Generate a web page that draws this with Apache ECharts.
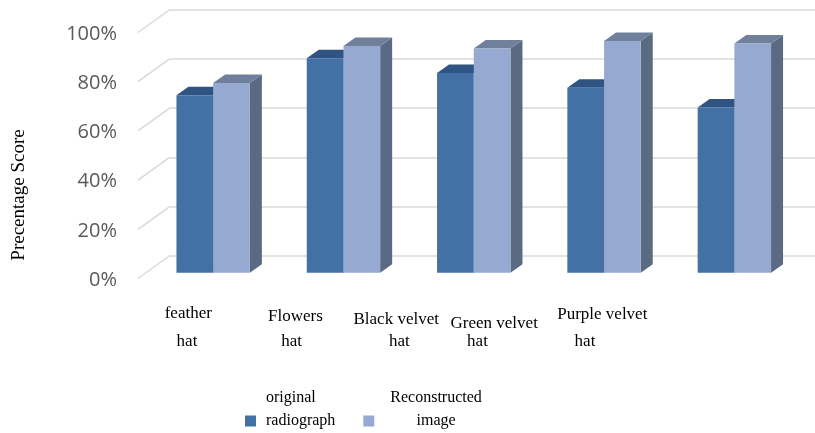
<!DOCTYPE html>
<html>
<head>
<meta charset="utf-8">
<script src="https://cdn.jsdelivr.net/npm/echarts@6/dist/echarts.min.js"></script>
<style>
  html, body { margin: 0; padding: 0; background: #ffffff; }
  #chart { width: 815px; height: 433px; }
</style>
</head>
<body>
<div id="chart"></div>
<script>
// ---- data ----
const categories = ['feather hat', 'Flowers hat', 'Black velvet hat', 'Green velvet hat', 'Purple velvet hat'];
const originalRadiograph = [0.72, 0.87, 0.81, 0.75, 0.67];
const reconstructedImage = [0.77, 0.92, 0.91, 0.94, 0.93];
const percentTicks = [0, 0.2, 0.4, 0.6, 0.8, 1];
const seriesNames = ['original radiograph', 'Reconstructed image'];
const yAxisTitle = 'Precentage Score';

// ---- look ----
const SERIF = '"Liberation Serif", "DejaVu Serif", serif';
const SANS = '"Open Sans", "Liberation Sans", sans-serif';
const GRID_LINE = '#d9d9d9';
const FACE = [
  { front: '#4471a5', top: '#2f5382', side: '#34577f' },
  { front: '#95a9d1', top: '#6f7f9c', side: '#5b6a83' }
];
// depth of the 3-D wall and of each bar (px)
const WALL_DX = 32, WALL_DY = -23;
const BAR_DX = 12, BAR_DY = -8.5;

// per-label nudges of the two text lines: [line dx, hat dx, line height, hat height]
const labelLayout = [
  [-0.4, -1.7, 10.6, 46.2],
  [3.4, -0.4, 17.4, 32.6],
  [0.7, 3.8, 24, 19.4],
  [-4.7, -21.4, 30.6, 6.2],
  [0, -17.3, 12.6, 42.2]
];

function hPad(dx) {
  return [0, Math.max(0, -2 * dx), 0, Math.max(0, 2 * dx)];
}

const labelRich = {};
labelLayout.forEach(function (l, i) {
  labelRich['a' + i] = { fontFamily: SERIF, fontSize: 17, color: '#000', lineHeight: l[2], padding: hPad(l[0]), align: 'center' };
  labelRich['b' + i] = { fontFamily: SERIF, fontSize: 17, color: '#000', lineHeight: l[3], padding: hPad(l[1]), align: 'center' };
});

function splitLastWord(s) {
  const k = s.lastIndexOf(' ');
  return [s.slice(0, k), s.slice(k + 1)];
}
function splitFirstWord(s) {
  const k = s.indexOf(' ');
  return [s.slice(0, k), s.slice(k + 1)];
}

// one 3-D bar: front face, top face and right side face
function makeBar(seriesIdx) {
  return function (params, api) {
    const cat = api.value(0);
    const val = api.value(1);
    const base = api.coord([cat, 0]);
    const topPt = api.coord([cat, val]);
    const band = api.size([1, 0])[0];
    const w = band * 0.2817;
    const x0 = seriesIdx === 0 ? base[0] - w : base[0];
    const x1 = x0 + w;
    const yb = base[1];
    const yt = topPt[1];
    const c = FACE[seriesIdx];
    return {
      type: 'group',
      children: [
        {
          type: 'polygon',
          shape: { points: [[x1, yt], [x1 + BAR_DX, yt + BAR_DY], [x1 + BAR_DX, yb + BAR_DY], [x1, yb]] },
          style: { fill: c.side }
        },
        {
          type: 'polygon',
          shape: { points: [[x0, yt], [x0 + BAR_DX, yt + BAR_DY], [x1 + BAR_DX, yt + BAR_DY], [x1, yt]] },
          style: { fill: c.top }
        },
        {
          type: 'rect',
          shape: { x: x0, y: yt, width: w, height: yb - yt },
          style: { fill: c.front }
        }
      ]
    };
  };
}

const chart = echarts.init(document.getElementById('chart'), null, { renderer: 'canvas' });

chart.setOption({
  backgroundColor: '#ffffff',
  animation: false,
  grid: [
    // front plane: value labels and category labels
    { left: 137, width: 517, top: 34, height: 246 },
    // back wall with the gridlines
    { left: 170, right: 0, top: 9.5, height: 246.5 },
    // bars, standing mid-depth
    { left: 148, width: 651.5, top: 26.2, height: 246.5 }
  ],
  xAxis: [
    {
      gridIndex: 0,
      type: 'category',
      data: categories,
      axisLine: { show: false },
      axisTick: { show: false },
      axisLabel: {
        interval: 0,
        margin: 28,
        formatter: function (value, idx) {
          const p = splitLastWord(value);
          return '{a' + idx + '|' + p[0] + '}\n{b' + idx + '|' + p[1] + '}';
        },
        rich: labelRich
      }
    },
    { gridIndex: 1, type: 'value', show: false },
    { gridIndex: 2, type: 'category', data: categories, show: false }
  ],
  yAxis: [
    {
      gridIndex: 0,
      type: 'value',
      min: 0,
      max: 1,
      interval: 0.2,
      axisLine: { show: false },
      axisTick: { show: false },
      splitLine: { show: false },
      axisLabel: {
        margin: 20,
        color: '#595959',
        fontFamily: SANS,
        fontSize: 20,
        formatter: function (v) { return Math.round(v * 100) + '%'; }
      },
      name: yAxisTitle,
      nameLocation: 'middle',
      nameRotate: 90,
      nameGap: 108,
      nameTextStyle: { fontFamily: SERIF, fontSize: 19, color: '#000', padding: [0, 76, 0, 0] }
    },
    {
      gridIndex: 1,
      type: 'value',
      min: 0,
      max: 1,
      interval: 0.2,
      axisLine: { show: false },
      axisTick: { show: false },
      axisLabel: { show: false },
      splitLine: { show: true, lineStyle: { color: GRID_LINE, width: 1.5 } }
    },
    { gridIndex: 2, type: 'value', min: 0, max: 1, show: false }
  ],
  legend: {
    data: seriesNames,
    left: 240,
    top: 385,
    icon: 'rect',
    itemWidth: 11,
    itemHeight: 11,
    itemGap: 28,
    selectedMode: false,
    formatter: function (name) {
      const p = splitFirstWord(name);
      const key = name === seriesNames[0] ? 'l' : 'c';
      return '{' + key + '|' + p[0] + '}\n{' + key + '|' + p[1] + '}\n{' + key + '| }';
    },
    textStyle: {
      fontFamily: SERIF,
      fontSize: 16,
      color: '#000',
      padding: [0, 0, 0, 5],
      rich: {
        l: { fontFamily: SERIF, fontSize: 16, color: '#000', lineHeight: 23, align: 'left' },
        c: { fontFamily: SERIF, fontSize: 16, color: '#000', lineHeight: 23, align: 'center', padding: [0, 0, 0, 6] }
      }
    }
  },
  series: [
    {
      // side-wall edges joining each value on the front plane to the back wall
      type: 'custom',
      xAxisIndex: 0,
      yAxisIndex: 0,
      silent: true,
      data: percentTicks.map(function (v) { return [0, v]; }),
      renderItem: function (params, api) {
        const y = api.coord([0, api.value(1)])[1];
        const x = params.coordSys.x;
        return {
          type: 'line',
          shape: { x1: x + 1, y1: y - 1.5, x2: x + 1 + WALL_DX, y2: y - 1.5 + WALL_DY },
          style: { stroke: GRID_LINE, lineWidth: 1.5 }
        };
      }
    },
    {
      name: seriesNames[0],
      type: 'custom',
      xAxisIndex: 2,
      yAxisIndex: 2,
      itemStyle: { color: FACE[0].front },
      data: originalRadiograph.map(function (v, i) { return [i, v]; }),
      renderItem: makeBar(0)
    },
    {
      name: seriesNames[1],
      type: 'custom',
      xAxisIndex: 2,
      yAxisIndex: 2,
      itemStyle: { color: FACE[1].front },
      data: reconstructedImage.map(function (v, i) { return [i, v]; }),
      renderItem: makeBar(1)
    }
  ]
});
</script>
</body>
</html>
